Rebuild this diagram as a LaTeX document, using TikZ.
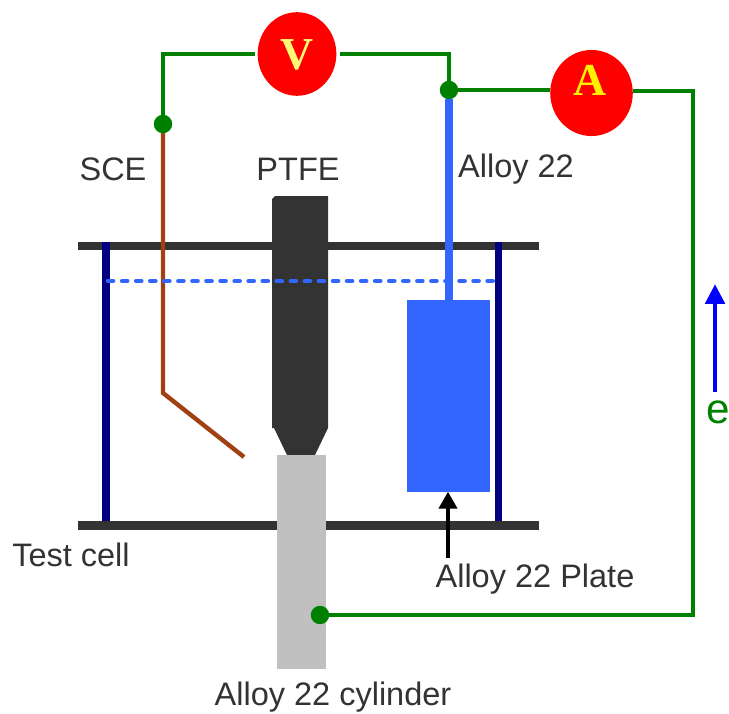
\documentclass[tikz,border=0pt]{standalone}
\usepackage{fontspec}
\setmainfont{Liberation Sans}
\newfontfamily\metrefont{Liberation Serif}
\usetikzlibrary{shapes.geometric,arrows.meta}
\definecolor{wiregreen}{RGB}{0,128,0}
\definecolor{alloyblue}{RGB}{51,102,255}
\definecolor{celldark}{RGB}{51,51,51}
\definecolor{cylgray}{RGB}{192,192,192}
\definecolor{scebrown}{RGB}{160,65,20}
\definecolor{wallnavy}{RGB}{0,0,128}
\tikzset{
  meter/.style={shape=ellipse, fill=red, inner sep=0pt, outer sep=0pt},
  metertext/.style={inner sep=0pt, font=\metrefont\bfseries\fontsize{26}{26}\selectfont},
  junction/.style={shape=circle, fill=wiregreen, inner sep=0pt, outer sep=0pt, minimum size=10.5pt},
  wire/.style={draw=wiregreen, line width=2.2pt},
  textlab/.style={inner sep=0pt, text=black!80, font=\fontsize{18.5}{18.5}\selectfont},
  cellbar/.style={draw=celldark, line width=4.9pt},
  wallbar/.style={draw=wallnavy, line width=4.4pt}
}
\begin{document}
\begin{tikzpicture}[x=0.02cm, y=-0.02cm]
                \useasboundingbox (0, 0) rectangle (729, 713);

                \coordinate (T1) at (78, 246);
                \coordinate (T2) at (539, 246);
                \coordinate (B1) at (78, 525.5);
                \coordinate (B2) at (539, 525.5);
                \coordinate (WL1) at (106, 242);
                \coordinate (WL2) at (106, 521);
                \coordinate (WR1) at (498.5, 242);
                \coordinate (WR2) at (498.5, 521);
                \coordinate (L1) at (108, 281);
                \coordinate (L2) at (494, 281);

                \draw[cellbar] (T1) -- (T2);
                \draw[cellbar] (B1) -- (B2);
                \draw[wallbar] (WL1) -- (WL2);
                \draw[wallbar] (WR1) -- (WR2);

                \fill[celldark] (275, 196) -- (328, 196) -- (328, 428) -- (315, 455) -- (287, 455) -- (274, 428) -- (272, 428) -- (272, 199) -- cycle;
                \node[shape=rectangle, fill=cylgray, inner sep=0pt, outer sep=0pt, minimum width=28.4pt, minimum height=122pt] (C) at (301.5, 562) {};
                \node[shape=rectangle, fill=alloyblue, inner sep=0pt, outer sep=0pt, minimum width=47.6pt, minimum height=108.9pt] (P) at (448.5, 396) {};

                \node[meter, minimum width=44.8pt, minimum height=47.6pt] (V) at (297, 54) {};
                \node[meter, minimum width=47pt, minimum height=49pt] (A) at (591.5, 93) {};
                \node[metertext, text=yellow!55!white] (VT) at (297, 55) {V};
                \node[metertext, text=yellow] (AT) at (590, 80) {A};
                \node[junction] (J1) at (163, 124) {};
                \node[junction] (J2) at (449, 90) {};
                \node[junction] (J3) at (320, 615) {};

                \coordinate (K1) at (163, 393);
                \coordinate (K2) at (244, 457);
                \draw[scebrown, line width=2.5pt] (J1) -- (K1) -- (K2);
                \draw[alloyblue, line width=4.5pt] (J2) -- (P.north -| J2);
                \draw[alloyblue, line width=2.5pt, line cap=round, dash pattern=on 3pt off 5pt] (L1) -- (L2);

                \coordinate (VL) at (255, 54);
                \coordinate (VR) at (340, 54);
                \coordinate (R) at (693, 91);
                \draw[wire] (J1) |- (VL);
                \draw[wire] (VR) -| (J2);
                \draw[wire] (J2) -- (A.west |- J2);
                \draw[wire] (A.east |- R) -- (R) |- (J3);

                \node[textlab] (SCE) at (113, 169) {SCE};
                \node[textlab] (PTFE) at (298, 169) {PTFE};
                \node[textlab] (AL) at (516, 169) {Alloy 22};
                \node[textlab] (TC) at (71, 555) {Test cell};
                \node[textlab] (PL) at (535, 579) {Alloy 22 Plate};
                \node[textlab] (CY) at (333, 697) {Alloy 22 cylinder};
                \node[inner sep=0pt, text=wiregreen, font=\fontsize{24}{24}\selectfont] (E) at (718.5, 412) {e};

                \coordinate (AR) at (448, 558);
                \draw[-{Triangle[length=9.6pt, width=10.2pt]}, line width=2.2pt] (AR) -- (P.south -| AR);
                \coordinate (E1) at (715, 392);
                \coordinate (E2) at (715, 284);
                \draw[-{Triangle[length=11.3pt, width=10.8pt]}, blue, line width=2.8pt] (E1) -- (E2);
            \end{tikzpicture}
\end{document}
